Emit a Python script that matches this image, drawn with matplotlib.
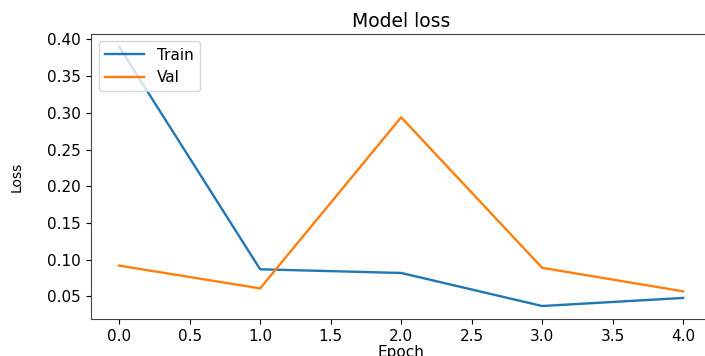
import matplotlib
matplotlib.use('Agg')
import matplotlib.pyplot as plt

# training history per epoch
epochs     = [0, 1, 2, 3, 4]
train_loss = [0.390, 0.087, 0.082, 0.037, 0.048]
val_loss   = [0.092, 0.061, 0.294, 0.089, 0.057]

fig = plt.figure(figsize=(7.05, 3.56), dpi=100)
# axes run slightly past the right edge, so the right spine is cut off
ax = fig.add_axes([0.129, 0.104, 0.88, 0.801])

ax.plot(epochs, train_loss, label='Train', lw=1.7)
ax.plot(epochs, val_loss, label='Val', lw=1.7)

ax.set_title('Model loss', fontsize=13.5, pad=5)
ax.set_ylabel('Loss', fontsize=10)
ax.yaxis.set_label_coords(-0.108, 0.5)
ax.set_xlabel('Epoch', fontsize=11, labelpad=1)
ax.set_yticks([0.05, 0.10, 0.15, 0.20, 0.25, 0.30, 0.35, 0.40])
ax.tick_params(labelsize=11)
for sp in ax.spines.values():
    sp.set_color('#444444')
ax.legend(loc='upper left', fontsize=11, handlelength=2.6)

plt.savefig('out.png', dpi=100)
